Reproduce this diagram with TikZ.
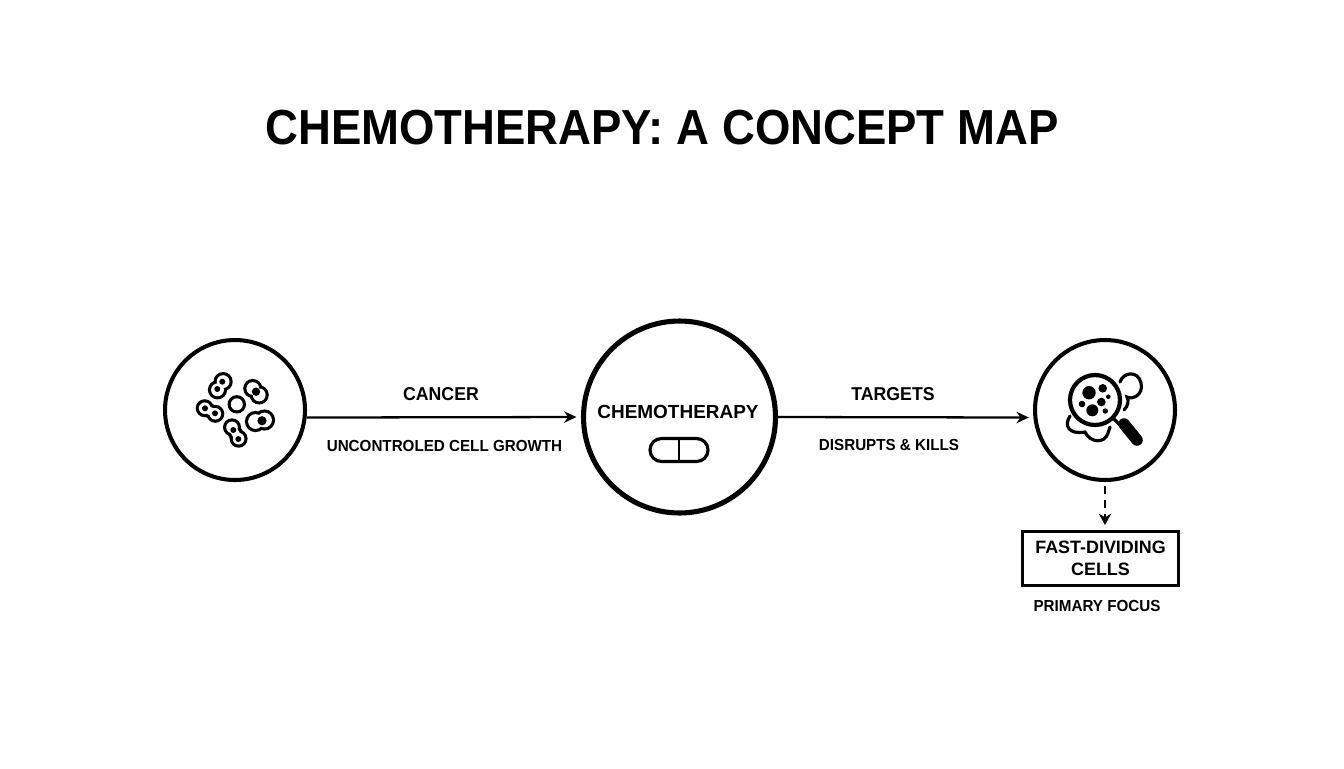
\documentclass[tikz,border=0pt]{standalone}
\usepackage{fontspec}
\setmainfont{Liberation Sans}
\newfontfamily\titlefont[FakeStretch=0.925]{Liberation Sans}
\newfontfamily\labelfont[FakeStretch=0.95]{Liberation Sans}
\usetikzlibrary{arrows.meta}
\tikzset{
hub/.style={draw,circle,line width=2.3pt,minimum size=2.8cm,inner sep=0pt},
bighub/.style={draw,circle,line width=2.9pt,minimum size=3.84cm,inner sep=0pt},
link/.style={line width=1.3pt,shorten >=2.6pt,-{Stealth[length=7pt,width=6.5pt]}},
lbl/.style={font=\fontsize{10.6}{13}\labelfont\bfseries,inner sep=0pt},
sublbl/.style={font=\fontsize{9.1}{12}\labelfont\bfseries,inner sep=0pt},
}
\begin{document}
\begin{tikzpicture}[x=0.02cm,y=-0.02cm]
\useasboundingbox (0,0) rectangle (1344,768);
\node (title) at (662,128) [font=\fontsize{28}{36}\titlefont\bfseries,inner sep=0pt]{CHEMOTHERAPY: A CONCEPT MAP};
\node[hub] (cancer) at (235,410) {};
\node[bighub] (chemo) at (679.5,417) {};
\node[hub] (target) at (1105,410) {};
\draw[link](cancer.-6)--(chemo.west);
\draw[link](chemo.east)--(target.186);
\node (cancertxt) at (441,394) [lbl]{CANCER};
\node (growthtxt) at (444.5,446) [sublbl]{UNCONTROLED CELL GROWTH};
\node (targettxt) at (893,394) [lbl]{TARGETS};
\node (killtxt) at (889,445) [sublbl]{DISRUPTS \& KILLS};
\node (chemotxt) at (678,412) [font=\fontsize{10.8}{13}\selectfont\bfseries,inner sep=0pt]{CHEMOTHERAPY};
% pill
\node[draw,line width=1.8pt,rounded corners=6.5pt,minimum width=1.16cm,minimum height=0.46cm,inner sep=0pt] (pill) at (679,450) {};
\draw[line width=1.6pt](pill.north)--(pill.south);
% box below the right circle
\node[draw,line width=1.3pt,minimum width=3.12cm,minimum height=1.08cm,align=center,inner sep=0pt,font=\fontsize{10.2}{12.4}\selectfont\bfseries] (fastbox) at (1100.5,558.5) {FAST-DIVIDING\\CELLS};
\coordinate (dashend) at (target.south |- fastbox.north);
\draw[line width=1.2pt,dash pattern=on 5pt off 3pt,shorten <=2pt,shorten >=3pt,-{Stealth[length=6.5pt,width=7pt]}](target.south)--(dashend);
\node (focustxt) at (1097,606) [sublbl]{PRIMARY FOCUS};
% cells in the left circle
\foreach \xa/\ya/\xb/\yb/\ro in {223.1/381.6/217.5/389.8/9.6,252.8/388.5/259.2/394.9/9.6,204.7/408.2/215.3/413.8/9,255.5/421.5/264.5/420/10.6,232/427.3/238.6/438.7/9,236.8/404.3/236.8/404.3/9.2}{
\fill(\xa,\ya) circle[radius=\ro*0.02cm] (\xb,\yb) circle[radius=\ro*0.02cm];
\draw[line width=8.4pt](\xa,\ya)--(\xb,\yb);
\fill[white](\xa,\ya) circle[radius=(\ro-3.2)*0.02cm] (\xb,\yb) circle[radius=(\ro-3.2)*0.02cm];
\draw[white,line width=4.4pt](\xa,\ya)--(\xb,\yb);
}
\foreach \xa/\ya/\ra in {222.3/381.7/3,217.3/389/3,256/391.7/4.2,205/408.3/3,215/413.3/3,262/420.7/4.6,233.3/430/3,238.3/439/3}{
\fill(\xa,\ya) circle[radius=\ra*0.02cm];
}
% magnifier in the right circle
\draw[line width=1.8pt,line cap=round](1120,382) .. controls (1123,372) and (1138,370) .. (1141,383) .. controls (1144,395) and (1132,400) .. (1127,397) .. controls (1129,401) and (1128,406) .. (1124,410);
\draw[line width=1.8pt,line cap=round](1070,416) .. controls (1064,425) and (1068,435) .. (1085,432) .. controls (1090,443) and (1105,444) .. (1108,433) -- (1110,427);
\draw[line width=2.4pt,fill=white](1095,400) circle[radius=0.5cm];
\draw[line width=2pt](1113,418)--(1124,429);
\draw[line width=6.6pt,line cap=round](1124,424)--(1137,440);
\foreach \xa/\ya/\ra in {1089/392.7/6.7,1102.7/388.3/4.3,1108.3/396.7/2.3,1101.3/402/4.3,1082/404/3.3,1092.3/410.3/6,1105.3/411/2.7}{
\fill(\xa,\ya) circle[radius=\ra*0.02cm];
}
\end{tikzpicture}
\end{document}
